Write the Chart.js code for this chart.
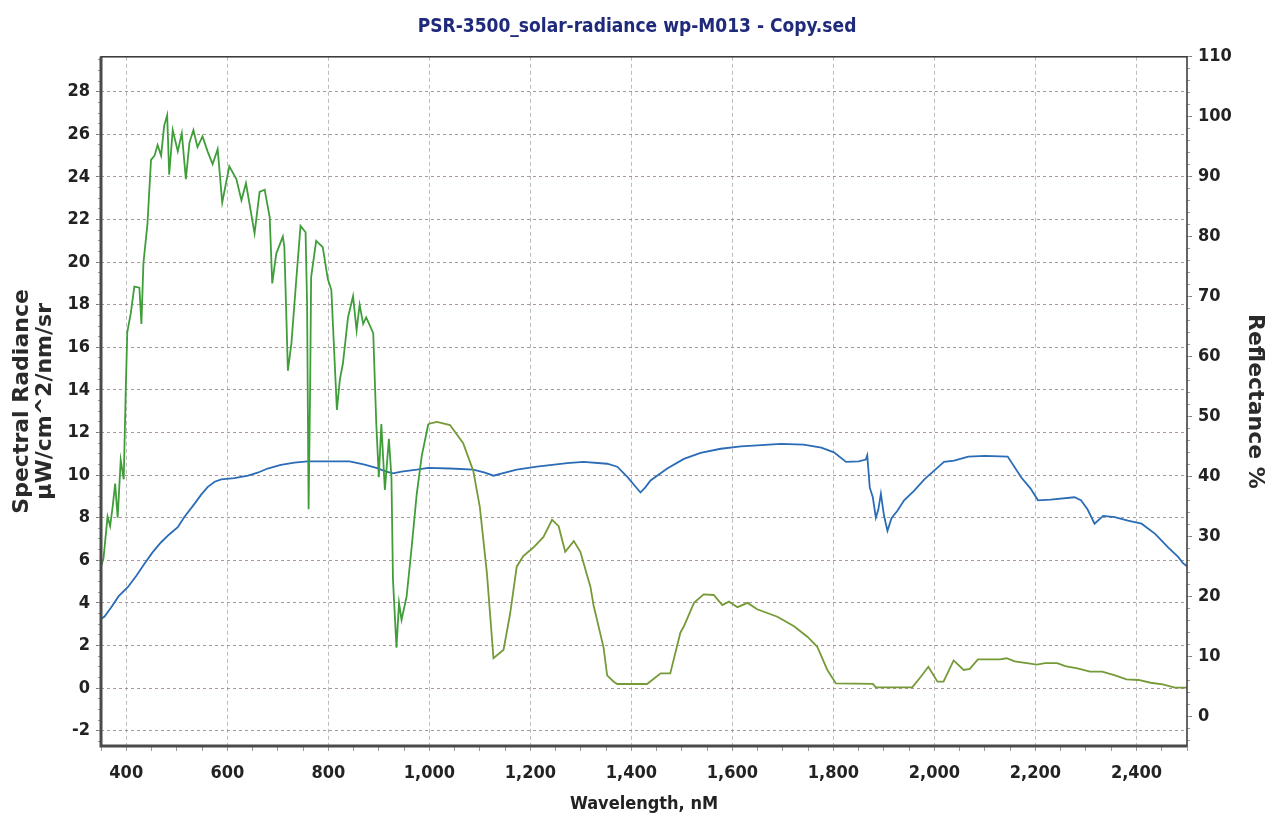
<!DOCTYPE html>
<html>
<head>
<meta charset="utf-8">
<script src="https://cdn.jsdelivr.net/npm/chart.js@4.4.1/dist/chart.umd.min.js"></script>
<style>
  html, body { margin: 0; padding: 0; background: #fff; }
  #wrap { width: 1274px; height: 818px; }
</style>
</head>
<body>
<div id="wrap"><canvas id="chart" width="1274" height="818"></canvas></div>
<script>
// ---------------- DATA ----------------
// spectral radiance (green, left axis), wavelength in nm
const radWl = [350, 355, 363, 368, 373, 378, 383, 389, 395, 399, 402, 409, 416, 426, 430, 434, 442, 449, 456, 462,
  469, 475, 481, 485, 492, 502, 510, 518, 525, 533, 541, 551, 561, 571, 581, 590, 604, 618, 628, 637,
  654, 664, 674, 684, 689, 697, 710, 713, 720, 727, 737, 745, 755, 758, 761, 764, 766, 776, 789, 799,
  806, 817, 823, 829, 839, 849, 856, 862, 869, 875, 889, 892, 895, 900, 905, 912, 920, 925, 928, 935,
  940, 945, 955, 965, 975, 985, 998, 1015, 1041, 1067, 1087, 1100, 1114, 1127, 1147, 1160, 1173, 1186, 1206, 1226,
  1243, 1256, 1269, 1286, 1299, 1319, 1325, 1345, 1352, 1365, 1372, 1431, 1458, 1477, 1497, 1504, 1524, 1543, 1563, 1580,
  1593, 1610, 1630, 1649, 1689, 1722, 1749, 1768, 1788, 1805, 1878, 1884, 1956, 1973, 1988, 2006, 2018, 2038, 2058, 2070,
  2086, 2130, 2143, 2159, 2203, 2219, 2243, 2259, 2283, 2308, 2332, 2356, 2380, 2404, 2428, 2452, 2476, 2500];
const radVal = [5.7, 6.1, 8.05, 7.6, 8.5, 9.6, 8.0, 10.7, 9.8, 14, 16.7, 17.6, 18.85, 18.8, 17.1, 19.95, 21.8, 24.8, 25.0, 25.5,
  25.0, 26.4, 26.9, 24.1, 26.2, 25.2, 26.05, 23.9, 25.6, 26.2, 25.4, 25.9, 25.2, 24.6, 25.3, 22.8, 24.5, 23.9, 22.9, 23.7,
  21.35, 23.3, 23.4, 22.1, 19.0, 20.4, 21.2, 20.7, 14.9, 16.2, 19.3, 21.7, 21.4, 18, 8.4, 14, 19.3, 21.0, 20.7, 19.2,
  18.7, 13.06, 14.5, 15.25, 17.4, 18.4, 16.8, 18.0, 17.1, 17.4, 16.66, 14.5, 12.4, 9.9, 12.4, 9.3, 11.7, 9.9, 5.1, 1.9,
  4.0, 3.2, 4.3, 6.6, 9.1, 10.9, 12.4, 12.5, 12.35, 11.5, 10.2, 8.5, 5.4, 1.4, 1.8, 3.5, 5.7, 6.2, 6.6, 7.1,
  7.9, 7.6, 6.4, 6.9, 6.4, 4.75, 3.9, 1.9, 0.6, 0.3, 0.19, 0.19, 0.69, 0.69, 2.6, 2.9, 4.0, 4.4, 4.37, 3.9,
  4.06, 3.8, 4.0, 3.7, 3.35, 2.9, 2.4, 1.94, 0.85, 0.22, 0.2, 0.03, 0.03, 0.53, 1.0, 0.3, 0.3, 1.3, 0.85, 0.9,
  1.35, 1.35, 1.4, 1.25, 1.1, 1.17, 1.17, 1.03, 0.92, 0.77, 0.77, 0.61, 0.41, 0.38, 0.25, 0.17, 0.02, 0.02];

// reflectance % (blue, right axis)
const refWl = [350, 357, 370, 385, 403, 420, 436, 452, 469, 485, 502, 515, 535, 548, 561, 575, 588, 614, 641, 660,
  680, 706, 733, 759, 799, 842, 870, 895, 915, 928, 945, 975, 998, 1041, 1087, 1110, 1127, 1150, 1173, 1213,
  1273, 1305, 1352, 1372, 1392, 1408, 1418, 1428, 1438, 1471, 1504, 1537, 1577, 1617, 1657, 1696, 1741, 1776, 1801, 1825,
  1850, 1864, 1867, 1872, 1878, 1884, 1889, 1894, 1900, 1907, 1915, 1927, 1940, 1960, 1980, 2000, 2019, 2039, 2067, 2100,
  2145, 2172, 2190, 2205, 2230, 2277, 2290, 2303, 2317, 2334, 2357, 2383, 2410, 2437, 2463, 2483, 2492, 2500];
const refVal = [16.2, 16.6, 18.1, 20, 21.5, 23.4, 25.4, 27.3, 29.0, 30.3, 31.5, 33.2, 35.4, 36.9, 38.2, 39.1, 39.5, 39.7, 40.1, 40.6,
  41.3, 41.9, 42.3, 42.5, 42.5, 42.5, 42.0, 41.4, 40.8, 40.5, 40.8, 41.1, 41.4, 41.3, 41.1, 40.6, 40.1, 40.6, 41.1, 41.6,
  42.2, 42.4, 42.1, 41.6, 39.9, 38.3, 37.3, 38.2, 39.3, 41.3, 42.9, 43.9, 44.6, 45.0, 45.2, 45.4, 45.3, 44.8, 44.0, 42.4,
  42.5, 42.8, 43.5, 38.1, 36.5, 33.1, 34.5, 37.1, 33.5, 30.9, 33.0, 34.3, 36.0, 37.6, 39.5, 41.0, 42.4, 42.6, 43.3, 43.4,
  43.3, 39.8, 38.0, 36.0, 36.1, 36.5, 36.0, 34.5, 32.1, 33.4, 33.2, 32.6, 32.1, 30.4, 28.1, 26.5, 25.5, 25.0];

// axis ticks
const xTicks = [400, 600, 800, 1000, 1200, 1400, 1600, 1800, 2000, 2200, 2400];
const leftTicks = [-2, 0, 2, 4, 6, 8, 10, 12, 14, 16, 18, 20, 22, 24, 26, 28];
const rightTicks = [0, 10, 20, 30, 40, 50, 60, 70, 80, 90, 100, 110];

// ---------------- STYLE ----------------
const tickFont = { family: '"DejaVu Sans Condensed", "Liberation Sans Narrow", "DejaVu Sans", sans-serif', size: 18, weight: 'bold' };
const titleFamily = '"DejaVu Sans", Verdana, sans-serif';
const hGrid = 'rgba(150,125,125,0.8)';
const vGrid = 'rgba(165,165,165,0.75)';
const minorTick = '#9a9a9a';

// helper: fixed ticks on a scale
const fixTicks = list => scale => { scale.ticks = list.map(v => ({ value: v })); };
const stepTicks = (from, to, step) => scale => {
  const t = [];
  for (let v = from; v <= to + 1e-9; v += step) t.push({ value: +v.toFixed(3) });
  scale.ticks = t;
};

// chart area frame
const framePlugin = {
  id: 'frame',
  afterDatasetsDraw(chart) {
    const { ctx, chartArea: a } = chart;
    ctx.save();
    ctx.strokeStyle = '#333';
    ctx.lineWidth = 1.5;
    ctx.strokeRect(a.left, a.top, a.right - a.left, a.bottom - a.top);
    ctx.strokeStyle = '#4a4a4a';
    ctx.lineWidth = 3;
    ctx.beginPath();
    ctx.moveTo(a.left, a.top);
    ctx.lineTo(a.left, a.bottom);
    ctx.lineTo(a.right, a.bottom);
    ctx.stroke();
    ctx.restore();
  }
};

const ctx = document.getElementById('chart').getContext('2d');
new Chart(ctx, {
  type: 'line',
  data: {
    datasets: [
      {
        label: 'Spectral Radiance',
        data: radWl.map((x, i) => ({ x, y: radVal[i] })),
        yAxisID: 'y',
        borderColor: '#4a9c36',
        segment: { borderColor: c => (c.p0.parsed.x < 990 ? '#3f9e3a' : '#759a38') },
        borderWidth: 1.8,
        pointRadius: 0,
        tension: 0
      },
      {
        label: 'Reflectance %',
        data: refWl.map((x, i) => ({ x, y: refVal[i] })),
        yAxisID: 'yR',
        borderColor: '#2b6cb6',
        borderWidth: 1.8,
        pointRadius: 0,
        tension: 0
      }
    ]
  },
  options: {
    responsive: false,
    animation: false,
    layout: { padding: 0 },
    plugins: {
      legend: { display: false },
      tooltip: { enabled: false },
      title: {
        display: true,
        text: 'PSR-3500_solar-radiance wp-M013 - Copy.sed',
        color: '#1f2a7a',
        font: { family: tickFont.family, size: 19, weight: 'bold', lineHeight: 1.2 },
        padding: { top: 16, bottom: 18 }
      }
    },
    scales: {
      x: {
        type: 'linear',
        position: 'bottom',
        min: 350,
        max: 2500,
        afterBuildTicks: fixTicks(xTicks),
        afterFit: s => { s.height = 72; },
        ticks: {
          autoSkip: false,
          maxRotation: 0,
          padding: 17,
          color: '#222',
          font: tickFont,
          callback: v => v.toLocaleString('en-US')
        },
        grid: { color: vGrid, drawTicks: false },
        border: { display: false, dash: [4, 3] },
        title: {
          display: true,
          text: 'Wavelength, nM',
          color: '#222',
          font: { family: tickFont.family, size: 18, weight: 'bold', lineHeight: 1.2 },
          padding: { top: 0, bottom: 3 }
        }
      },
      xMinor: {
        type: 'linear',
        position: 'bottom',
        weight: -1,
        min: 350,
        max: 2500,
        afterBuildTicks: stepTicks(350, 2500, 50),
        afterFit: s => { s.height = 0; },
        ticks: { display: false },
        grid: { drawOnChartArea: false, color: minorTick, tickLength: 5 },
        border: { display: false }
      },
      y: {
        type: 'linear',
        position: 'left',
        min: -2.72,
        max: 29.64,
        afterBuildTicks: fixTicks(leftTicks),
        afterFit: s => { s.width = 101; },
        ticks: { autoSkip: false, padding: 6, color: '#222', font: tickFont },
        grid: { color: hGrid, tickLength: 5, tickColor: '#777' },
        border: { display: false, dash: [3, 3] },
        title: {
          display: true,
          text: ['Spectral Radiance', '\u00b5W/cm^2/nm/sr'],
          color: '#2a2a2a',
          font: { family: titleFamily, size: 22, weight: 'bold', lineHeight: 1.05 },
          padding: { top: 10.5, bottom: 0 }
        }
      },
      yMinor: {
        type: 'linear',
        position: 'left',
        weight: -1,
        min: -2.72,
        max: 29.64,
        afterBuildTicks: stepTicks(-2.5, 29.5, 0.5),
        afterFit: s => { s.width = 0; },
        ticks: { display: false },
        grid: { drawOnChartArea: false, color: minorTick, tickLength: 3 },
        border: { display: false }
      },
      yR: {
        type: 'linear',
        position: 'right',
        min: -5,
        max: 110,
        afterBuildTicks: fixTicks(rightTicks),
        afterFit: s => { s.width = 87; },
        ticks: { autoSkip: false, padding: 6, color: '#222', font: tickFont },
        grid: { drawOnChartArea: false, tickLength: 5, color: '#777' },
        border: { display: false },
        title: {
          display: true,
          text: 'Reflectance %',
          color: '#2a2a2a',
          font: { family: titleFamily, size: 22, weight: 'bold', lineHeight: 1.0 },
          padding: { top: 8, bottom: 0 }
        }
      },
      yRMinor: {
        type: 'linear',
        position: 'right',
        weight: -1,
        min: -5,
        max: 110,
        afterBuildTicks: stepTicks(-4, 110, 2),
        afterFit: s => { s.width = 0; },
        ticks: { display: false },
        grid: { drawOnChartArea: false, color: minorTick, tickLength: 3 },
        border: { display: false }
      }
    }
  },
  plugins: [framePlugin]
});
</script>
</body>
</html>
